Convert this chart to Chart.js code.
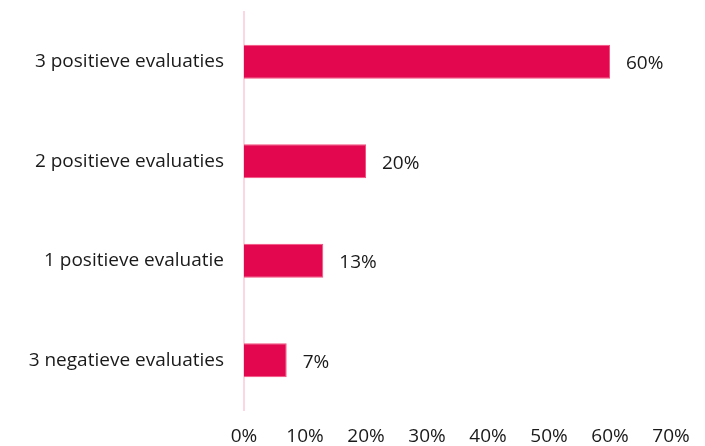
<!DOCTYPE html>
<html>
<head>
<meta charset="utf-8">
<script src="https://cdn.jsdelivr.net/npm/chart.js@4"></script>
<style>
  html, body { margin: 0; padding: 0; background: #fff; }
  #wrap { width: 705px; height: 446px; }
</style>
</head>
<body>
<div id="wrap"><canvas id="evalChart" width="705" height="446"></canvas></div>
<script>
// Data
const categories = ['3 positieve evaluaties', '2 positieve evaluaties', '1 positieve evaluatie', '3 negatieve evaluaties'];
const shares = [60, 20, 13, 7];
const tickValues = [0, 10, 20, 30, 40, 50, 60, 70];

const barColor = '#e2074f';
const fontFamily = "'Open Sans', sans-serif";
const fontSize = 19;

// Draw the percentage next to each bar
const valueLabels = {
  id: 'valueLabels',
  afterDatasetsDraw(chart) {
    const ctx = chart.ctx;
    const meta = chart.getDatasetMeta(0);
    ctx.save();
    ctx.font = fontSize + 'px ' + fontFamily;
    ctx.fillStyle = '#1a1a1a';
    ctx.textAlign = 'left';
    ctx.textBaseline = 'middle';
    meta.data.forEach((bar, i) => {
      ctx.fillText(shares[i] + '%', bar.x + 16, bar.y + 2);
    });
    ctx.restore();
  }
};

const ctx = document.getElementById('evalChart').getContext('2d');
new Chart(ctx, {
  type: 'bar',
  data: {
    labels: categories,
    datasets: [{
      data: shares,
      backgroundColor: barColor,
      borderColor: '#f5517f',
      borderWidth: 1,
      categoryPercentage: 0.68,
      barPercentage: 0.5
    }]
  },
  options: {
    indexAxis: 'y',
    responsive: false,
    animation: false,
    layout: { padding: { top: 12, right: 34, left: 0, bottom: 0 } },
    plugins: {
      legend: { display: false },
      tooltip: { enabled: false }
    },
    scales: {
      x: {
        min: 0,
        max: 70,
        afterBuildTicks(axis) {
          axis.ticks = tickValues.map(v => ({ value: v }));
        },
        afterFit(axis) {
          axis.height = 36;
        },
        grid: { display: false, drawTicks: false, tickLength: 0 },
        border: { display: false },
        ticks: {
          padding: 15,
          color: '#1a1a1a',
          font: { family: fontFamily, size: fontSize },
          callback: v => v + '%'
        }
      },
      y: {
        afterFit(axis) {
          axis.width = 244;
          axis.paddingTop = 0;
          axis.paddingBottom = 0;
        },
        grid: { display: false, drawTicks: false, tickLength: 0 },
        border: { display: true, color: '#fcd6e2', width: 2 },
        ticks: {
          padding: 20,
          color: '#1a1a1a',
          font: { family: fontFamily, size: fontSize }
        }
      }
    }
  },
  plugins: [valueLabels]
});
</script>
</body>
</html>
